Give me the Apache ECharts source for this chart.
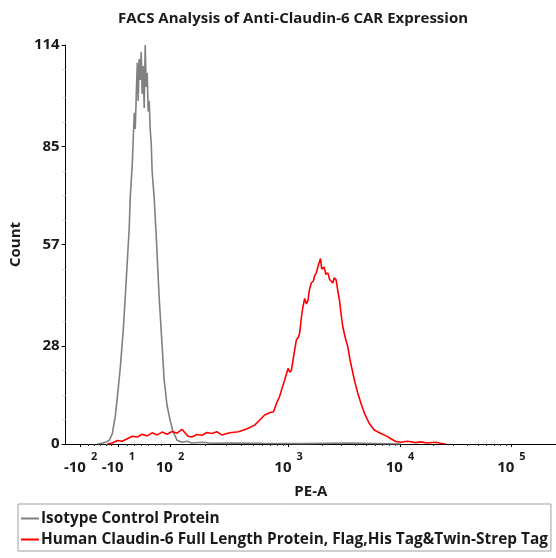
<!DOCTYPE html>
<html>
<head>
<meta charset="utf-8">
<script src="https://cdn.jsdelivr.net/npm/echarts@6/dist/echarts.min.js"></script>
<style>html,body{margin:0;padding:0;background:#fff}#c{width:556px;height:558px}</style>
</head>
<body>
<div id="c"></div>
<script>
// X values are in biexponential display units (10^3 = 2, 10^4 = 3, 10^5 = 4)
const isotypeX = [0.286,0.330,0.366,0.393,0.419,0.446,0.464,0.491,0.518,0.535,0.553,0.571,0.580,0.598,0.616,0.625,0.634,0.643,0.651,0.660,0.669,0.678,0.687,0.696,0.705,0.714,0.723,0.732,0.741,0.750,0.759,0.768,0.776,0.794,0.812,0.839,0.866,0.884,0.910,0.937,0.964,1.000,1.044,1.089,1.133,1.223,1.312,1.490,1.758,2.115,2.561,3.008];
const isotypeY = [0,0.3,0.6,1.1,3,8,13.4,22,33,42,52,62,70.6,80,94.6,90,100,108.9,98,110,104,112,100,108,96,114,102,106,95,98,89.7,86,78,70.6,60,42,28,18.3,11,6.9,3.5,1.1,0.5,0.8,0.3,0.5,0.2,0.3,0.2,0.1,0.3,0];

const claudinX = [0.375,0.419,0.464,0.509,0.553,0.598,0.643,0.687,0.732,0.776,0.821,0.866,0.910,0.955,1.000,1.044,1.098,1.133,1.178,1.223,1.267,1.312,1.357,1.401,1.473,1.550,1.624,1.696,1.740,1.785,1.830,1.865,1.892,1.919,1.937,1.963,1.996,2.012,2.026,2.048,2.070,2.088,2.100,2.115,2.128,2.145,2.160,2.175,2.187,2.204,2.222,2.236,2.249,2.267,2.280,2.287,2.298,2.309,2.320,2.334,2.353,2.369,2.383,2.398,2.410,2.427,2.441,2.457,2.472,2.487,2.508,2.532,2.552,2.577,2.597,2.621,2.651,2.680,2.722,2.769,2.829,2.889,2.918,2.963,3.008,3.067,3.141,3.186,3.246,3.320,3.365,3.409];
const claudinY = [0,0.3,1,0.8,1.5,2.2,2,2.8,2.3,3.2,2.6,3.4,2.8,3.6,3.1,4.2,2.2,2,2.7,2.5,3.3,3,3.5,2.6,3.2,3.5,4.3,5.4,6.8,8.3,8.9,9.2,11.6,13.5,15.4,18,21.6,20.5,21.1,25.5,29.7,30.5,31.7,36,39,41.6,40,41.1,44,46,46.5,48.2,48.9,51,50.5,53,50,49.7,50.5,48.5,48.9,47,46.5,46,47.5,46.9,44,41.1,37,33.5,30.5,27.8,24,20.3,17.5,14.6,11.5,8.9,6,4,3,2.1,1.5,0.7,0.5,0.8,0.4,0.6,0.3,0.5,0.2,0];

const xTickPos = [0.134, 0.473, 0.936, 2.0, 3.0, 4.0];
const xTickBase = ['-10', '-10', '10', '10', '10', '10'];
const xTickExp = ['2', '1', '2', '3', '4', '5'];
const yTicks = [0, 28, 57, 85, 114];
const seriesNames = ['Isotype Control Protein', 'Human Claudin-6 Full Length Protein, Flag,His Tag&Twin-Strep Tag'];

const xMinor = [];
[0.20,0.26,0.31,0.36,0.41,0.55,0.62,0.68,0.74,0.80,0.86].forEach(v => xMinor.push(v));
for (let d = 0; d < 3; d++) {
  const a = d === 0 ? xTickPos[2] : xTickPos[2 + d];
  const b = xTickPos[3 + d];
  for (let k = 2; k <= 9; k++) xMinor.push(+(a + Math.log10(k) * (b - a)).toFixed(3));
}
const yMinor = [7,14,21,35,42,50,64,71,78,92,99,107];

const font = '"Open Sans", "Liberation Sans", sans-serif';
const txt = '#1a1a1a';
const chart = echarts.init(document.getElementById('c'), null, {renderer: 'canvas'});
chart.setOption({
  animation: false,
  backgroundColor: '#fff',
  title: {
    text: 'FACS Analysis of Anti-Claudin-6 CAR Expression',
    left: 113, top: 6,
    textStyle: {fontFamily: font, fontSize: 15, fontWeight: 'bold', color: txt}
  },
  legend: {
    orient: 'vertical', left: 18, top: 504,
    data: seriesNames,
    icon: 'rect', itemWidth: 18, itemHeight: 2, itemGap: 6,
    borderColor: '#a0a0a0', borderWidth: 1, padding: [7, 3, 4, 3],
    textStyle: {fontFamily: font, fontSize: 15.4, fontWeight: 'bold', color: txt, padding: [0,0,0,-3]}
  },
  grid: {left: 63, right: 0, top: 45, bottom: 114},
  xAxis: [{
    type: 'value', min: 0, max: 4.4,
    name: 'PE-A', nameLocation: 'middle', nameGap: 40,
    nameTextStyle: {fontFamily: font, fontSize: 15, fontWeight: 'bold', color: txt},
    axisLine: {lineStyle: {color: '#000', width: 1}},
    axisTick: {customValues: xTickPos, length: 3, lineStyle: {color: '#000'}},
    splitLine: {show: false},
    axisLabel: {
      customValues: xTickPos, margin: 15,
      formatter: function (v) {
        const i = xTickPos.indexOf(v);
        return i < 0 ? '' : '{b|' + xTickBase[i] + '}{s|' + xTickExp[i] + '}';
      },
      rich: {
        b: {fontFamily: font, fontSize: 15, fontWeight: 'bold', color: txt, lineHeight: 16, verticalAlign: 'bottom'},
        s: {fontFamily: font, fontSize: 11, fontWeight: 'bold', color: txt, lineHeight: 11, padding: [0,0,13,5], verticalAlign: 'bottom'}
      }
    }
  }, {
    type: 'value', min: 0, max: 4.4, position: 'bottom',
    axisLine: {show: false}, splitLine: {show: false}, axisLabel: {show: false},
    axisTick: {customValues: xMinor, length: 2, lineStyle: {color: '#333'}}
  }],
  yAxis: [{
    type: 'value', min: 0, max: 114,
    name: 'Count', nameLocation: 'middle', nameGap: 31,
    nameTextStyle: {fontFamily: font, fontSize: 15, fontWeight: 'bold', color: txt},
    axisLine: {show: true, lineStyle: {color: '#000', width: 1}},
    axisTick: {show: true, customValues: yTicks, length: 4, lineStyle: {color: '#000'}},
    splitLine: {show: false},
    axisLabel: {customValues: yTicks, margin: 6, fontFamily: font, fontSize: 15, fontWeight: 'bold', color: txt}
  }, {
    type: 'value', min: 0, max: 114, position: 'left',
    axisLine: {show: false}, splitLine: {show: false}, axisLabel: {show: false},
    axisTick: {show: true, customValues: yMinor, length: 3, lineStyle: {color: '#d0d0d0'}}
  }],
  series: [{
    name: seriesNames[0], type: 'line', showSymbol: false, symbol: 'none',
    data: isotypeX.map((x, i) => [x, isotypeY[i]]),
    lineStyle: {color: '#808080', width: 1.6}, itemStyle: {color: '#808080'}
  }, {
    name: seriesNames[1], type: 'line', showSymbol: false, symbol: 'none',
    data: claudinX.map((x, i) => [x, claudinY[i]]),
    lineStyle: {color: '#ff0000', width: 1.6}, itemStyle: {color: '#ff0000'}
  }]
});
</script>
</body>
</html>
